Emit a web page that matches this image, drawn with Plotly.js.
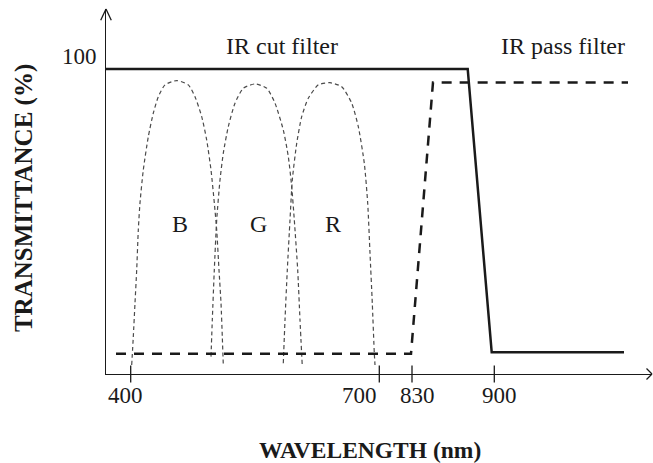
<!DOCTYPE html>
<html>
<head>
<meta charset="utf-8">
<script src="https://cdn.plot.ly/plotly-3.0.1.min.js"></script>
<style>html,body{margin:0;padding:0;background:#fff;}#chart{width:653px;height:463px;}</style>
</head>
<body>
<div id="chart"></div>
<script>
// Schematic x positions (the original axis is not to scale); y = transmittance (%)
const tickPositions = [24.7, 273.3, 306, 388.3];
const tickLabels = ['400', '700', '830', '900'];

const irCutX = [0, 361.7, 385.7, 518];
const irCutY = [100, 100, 7.1, 7.1];

const irPassX = [10, 305, 327, 522];
const irPassY = [6.6, 6.6, 95.6, 95.6];

const blueX = [25.7, 27.3, 29, 30.7, 32.3, 34, 37.3, 42.3, 47.3, 52.3, 59, 70.7, 82.3, 89, 95.7, 100.7, 105, 108.3, 110.7, 113, 115, 116.3, 117.3];
const blueY = [2.95, 12.2, 23.3, 34.1, 47.2, 56.1, 66.9, 77.8, 85.5, 90.9, 94.8, 96.2, 94.8, 90.9, 84.4, 76.7, 66.9, 56.1, 47.2, 34.1, 23.3, 12.2, 2.95];

const greenX = [105, 106.3, 108.3, 110.7, 114, 117.3, 122.3, 129, 137.3, 149, 160.7, 169, 177.3, 182.3, 185.7, 188.3, 191.7, 194, 196.3];
const greenY = [5.7, 17.7, 34.1, 50.5, 63.6, 72.4, 81.1, 88.8, 93.7, 95.1, 93.7, 88.8, 80.0, 71.3, 61.4, 50.5, 34.1, 17.7, 2.4];

const redX = [177.3, 179, 181.3, 184, 186.3, 190.7, 195.7, 202.3, 212.3, 224, 235.7, 245.7, 252.3, 258.3, 261.7, 264, 266.3, 268.3, 269];
const redY = [3.5, 17.7, 34.1, 50.5, 63.6, 75.6, 84.4, 90.4, 94.8, 95.5, 94.2, 88.8, 81.1, 69.1, 56.0, 39.6, 23.2, 6.8, 2.95];

const bandNames = ['B', 'G', 'R'];
const filterNames = ['IR cut filter', 'IR pass filter'];

const serif = '"Liberation Serif", "Times New Roman", Times, serif';
const ink = '#1a1a1a';
const bellStyle = {color: '#4a4a4a', width: 1.2, dash: '4px,3px', shape: 'spline', smoothing: 0.6};

const traces = [
  {x: blueX, y: blueY, mode: 'lines', line: bellStyle, hoverinfo: 'skip'},
  {x: greenX, y: greenY, mode: 'lines', line: bellStyle, hoverinfo: 'skip'},
  {x: redX, y: redY, mode: 'lines', line: bellStyle, hoverinfo: 'skip'},
  {x: irPassX, y: irPassY, mode: 'lines', line: {color: ink, width: 2.5, dash: '10px,8px'}, hoverinfo: 'skip'},
  {x: irCutX, y: irCutY, mode: 'lines', line: {color: ink, width: 2.5}, hoverinfo: 'skip'},
  {x: tickPositions, y: tickPositions.map(() => 0), mode: 'markers', cliponaxis: false,
   marker: {symbol: 'line-ns-open', size: 12, color: ink, line: {color: ink, width: 1.3}}, hoverinfo: 'skip'}
];

function peakX(xs, ys) { let i = ys.indexOf(Math.max(...ys)); return xs[i]; }

const labelShift = [-5, -20, 5.5, 4.7];
const annotations = [];
tickLabels.forEach((t, i) => annotations.push({
  x: tickPositions[i], y: 0, xref: 'x', yref: 'y', text: t, showarrow: false,
  xanchor: 'center', yanchor: 'middle', xshift: labelShift[i], yshift: -21,
  font: {family: serif, size: 23, color: ink}
}));
[[blueX, blueY], [greenX, greenY], [redX, redY]].forEach((s, i) => annotations.push({
  x: peakX(s[0], s[1]), y: 49.2, xref: 'x', yref: 'y', text: bandNames[i], showarrow: false,
  xanchor: 'center', yanchor: 'middle', xshift: 3,
  font: {family: serif, size: 24, color: ink}
}));
annotations.push({x: 175.5, y: 107.6, xref: 'x', yref: 'y', text: filterNames[0], showarrow: false,
  xanchor: 'center', yanchor: 'middle', font: {family: serif, size: 24, color: ink}});
annotations.push({x: 456.5, y: 107.5, xref: 'x', yref: 'y', text: filterNames[1], showarrow: false,
  xanchor: 'center', yanchor: 'middle', font: {family: serif, size: 24, color: ink}});
annotations.push({x: 0, y: 100, xref: 'paper', yref: 'y', text: '100', showarrow: false,
  xanchor: 'right', yanchor: 'middle', xshift: -7, yshift: 12, font: {family: serif, size: 23, color: ink}});
annotations.push({x: 0.4835, y: 0, xref: 'paper', yref: 'paper', text: '<b>WAVELENGTH (nm)</b>', showarrow: false,
  xanchor: 'center', yanchor: 'middle', yshift: -76, font: {family: serif, size: 23.5, color: ink}});
annotations.push({x: 0, y: 0.482, xref: 'paper', yref: 'paper', text: '<b>TRANSMITTANCE (%)</b>', showarrow: false,
  textangle: -90, xanchor: 'center', yanchor: 'middle', xshift: -82, font: {family: serif, size: 25, color: ink}});

// open arrowheads at the ends of both axes (each wing is an annotation arrow line)
const wing = (x, y, ax, ay) => ({x: x, y: y, xref: 'paper', yref: 'paper', ax: ax, ay: ay,
  axref: 'pixel', ayref: 'pixel', text: '', showarrow: true, arrowhead: 0, arrowwidth: 1.3,
  arrowcolor: ink, standoff: 0, startstandoff: 0});
annotations.push(wing(0, 1, -6, 12.7), wing(0, 1, 6, 12.7), wing(1, 0, -7, -7), wing(1, 0, -7, 7));

const layout = {
  width: 653, height: 463,
  margin: {l: 106, r: 1, t: 9, b: 89, pad: 0},
  paper_bgcolor: '#fff', plot_bgcolor: '#fff',
  showlegend: false,
  xaxis: {range: [0, 546], showgrid: false, zeroline: false, showticklabels: false, ticks: '',
          showline: true, linecolor: ink, linewidth: 1.4, fixedrange: true},
  yaxis: {range: [0, 119.67], showgrid: false, zeroline: false, showticklabels: false, ticks: '',
          showline: true, linecolor: ink, linewidth: 1.4, fixedrange: true},
  annotations: annotations
};

Plotly.newPlot('chart', traces, layout, {staticPlot: true, displayModeBar: false});
</script>
</body>
</html>
